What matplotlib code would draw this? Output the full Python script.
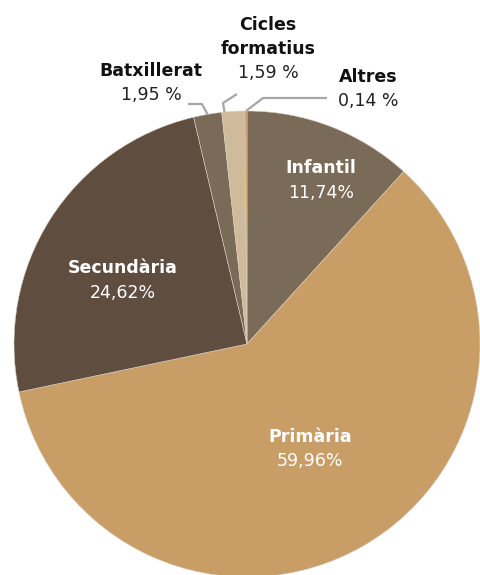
import numpy as np
import matplotlib
matplotlib.use("Agg")
import matplotlib.pyplot as plt

labels = ["Infantil", "Primària", "Secundària", "Batxillerat", "Cicles\nformatius", "Altres"]
values = [11.74, 59.96, 24.62, 1.95, 1.59, 0.14]
value_text = ["11,74%", "59,96%", "24,62%", "1,95 %", "1,59 %", "0,14 %"]
colors = ["#7a6a58", "#c99d66", "#5f4e40", "#7a6a58", "#cfbb9c", "#c9914f"]

W, H = 480, 575
cx, cy, r = 247, H - 344, 233
font = "DejaVu Sans"
fs = 12.5


def main():
    fig = plt.figure(figsize=(W / 100, H / 100), dpi=100)
    ax = fig.add_axes([0, 0, 1, 1])
    ax.set_xlim(0, W)
    ax.set_ylim(0, H)
    ax.set_aspect("equal")
    ax.axis("off")

    wedges, _ = ax.pie(values, colors=colors, startangle=90, counterclock=False,
                       center=(cx, cy), radius=r,
                       wedgeprops=dict(linewidth=0.4, edgecolor="#d8cfc4"))
    ax.set_xlim(0, W)
    ax.set_ylim(0, H)

    # labels inside the big slices
    inside = {0: (321, 168), 1: (310, 437), 2: (123, 268)}
    for i, (x, y) in inside.items():
        ax.text(x, H - y, labels[i], ha="center", va="center", color="white",
                fontsize=fs, fontweight="bold", family=font)
        ax.text(x, H - y - 24.5, value_text[i], ha="center", va="center",
                color="white", fontsize=fs, family=font)

    # labels outside for the small slices
    outside = {3: (151, 71.5), 4: (268, 24.5), 5: (368, 77.5)}
    for i, (x, y) in outside.items():
        nl = labels[i].count("\n")
        for k, part in enumerate(labels[i].split("\n")):
            ax.text(x, H - y - 25 * k, part, ha="center", va="center", color="#111111",
                    fontsize=fs, fontweight="bold", family=font)
        ax.text(x, H - y - 25 * (nl + 1) + 1, value_text[i], ha="center", va="center",
                color="#222222", fontsize=fs, family=font)

    # leader lines: elbow points in pixels, last point dropped onto the arc
    elbows = {3: ([(188, 104), (202, 104)], 0.5),
              4: ([(237, 94), (223, 103)], 0.12),
              5: ([(327, 98), (263, 98)], 0.5)}
    for i, (pts, frac) in elbows.items():
        w = wedges[i]
        ang = np.deg2rad(w.theta2 + (w.theta1 - w.theta2) * frac)
        ex, ey = cx + r * np.cos(ang), cy + r * np.sin(ang)
        xs = [p[0] for p in pts] + [ex]
        ys = [H - p[1] for p in pts] + [ey]
        ax.plot(xs, ys, color="#a6a6a6", linewidth=1.6, solid_capstyle="butt")

    fig.savefig("out.png", dpi=100)


if __name__ == "__main__":
    main()
